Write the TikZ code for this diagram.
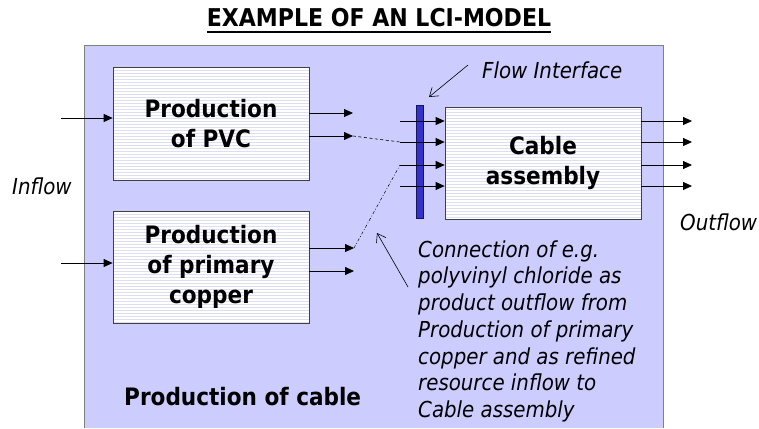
\documentclass[tikz,border=0pt]{standalone}
\usepackage{fontspec}
\setmainfont{DejaVu Sans Condensed}
\usetikzlibrary{arrows.meta,patterns,calc}
\definecolor{bgpanel}{RGB}{204,204,255}
\definecolor{paneledge}{RGB}{128,128,128}
\definecolor{boxline}{RGB}{222,222,242}
\definecolor{barfill}{RGB}{51,51,204}
\definecolor{baredge}{RGB}{20,20,90}
\tikzset{
  procbox/.style={draw=black!75, line width=0.7pt, preaction={fill=white},
    pattern=horizontal lines, pattern color=boxline,
    minimum width=196pt, align=center, inner sep=0pt,
    font=\bfseries\fontsize{24}{30}\selectfont},
  flowbar/.style={draw=baredge, line width=0.6pt, fill=barfill,
    minimum width=7pt, minimum height=113pt, inner sep=0pt},
  flowarr/.style={line width=0.8pt, -{Triangle[length=9pt,width=8pt]}},
  notearr/.style={line width=0.6pt, -{Straight Barb[length=8pt,width=11pt]}},
  bigtxt/.style={font=\bfseries\fontsize{24}{30}\selectfont, inner sep=0pt},
  ittxt/.style={font=\itshape\fontsize{22}{26.7}\selectfont, inner sep=0pt},
}
\begin{document}
\begin{tikzpicture}[x=1pt,y=-1pt]
\useasboundingbox (0,0) rectangle (759,428);
% panel
\fill[bgpanel] (84,45) rectangle (663,428);
\draw[paneledge, line width=0.8pt] (84,428) -- (84,45) -- (663,45) -- (663,428);
% title
\node[bigtxt, anchor=base, font=\bfseries\fontsize{24.5}{30}\selectfont] (title) at (379,27) {EXAMPLE OF AN LCI-MODEL};
\draw[line width=2.4pt] ([yshift=-5pt]title.base west) -- ([yshift=-5pt]title.base east);
% boxes
\node[procbox, minimum height=113pt] (pvc) at (211,123.5) {Production\\of PVC};
\node[procbox, minimum height=112pt] (cu) at (211,267) {Production\\of primary\\copper};
\node[procbox, minimum height=112pt] (cable) at (543,163) {Cable\\assembly};
\node[flowbar] (fi) at (419.5,161.5) {};
% inflows
\coordinate (in1) at (61,118);
\coordinate (in2) at (61,263);
\draw[flowarr] (in1) -- (in1 -| pvc.west);
\draw[flowarr] (in2) -- (in2 -| cu.west);
% PVC outputs
\coordinate (po1) at (353,113);
\coordinate (po2) at (353,136);
\draw[flowarr] (po1 -| pvc.east) -- (po1);
\draw[flowarr] (po2 -| pvc.east) -- (po2);
% copper outputs
\coordinate (co1) at (354,248);
\coordinate (co2) at (354,271);
\draw[flowarr] (co1 -| cu.east) -- (co1);
\draw[flowarr] (co2 -| cu.east) -- (co2);
% cable inputs
\foreach \y/\n in {121/1,142/2,165/3,186/4}{
  \coordinate (ci\n) at (400,\y);
  \coordinate (cq\n) at (692,\y);
}
\foreach \n in {1,2,3,4}{
  \draw[flowarr] (ci\n) -- (ci\n -| cable.west);
  \draw[flowarr] (ci\n -| cable.east) -- (cq\n);
}
% connections
\draw[line width=0.6pt, dash pattern=on 3pt off 2.5pt] (po2) -- (ci2);
\draw[line width=0.5pt, dash pattern=on 3pt off 2pt on 0.8pt off 2pt] (co1) -- (ci3);
% labels
\node[ittxt, anchor=base west] (inflow) at (12,194) {Inflow};
\node[ittxt, anchor=base west] (outflow) at (680,230) {Outflow};
\node[ittxt, anchor=base west] (fitxt) at (482,78) {Flow Interface};
\coordinate (fitail) at (468,65);
\coordinate (fitip) at (429,97);
\draw[notearr] (fitail) -- (fitip);
\node[ittxt, anchor=north west, align=left] (note) at (418,240.3)
 {Connection of e.g.\\polyvinyl chloride as\\product outflow from\\Production of primary\\copper and as refined\\resource inflow to\\Cable assembly};
\coordinate (ntail) at (408,287);
\coordinate (ntip) at (377,233);
\draw[notearr] (ntail) -- (ntip);
\node[bigtxt, anchor=base west] (pcable) at (124,405) {Production of cable};
\end{tikzpicture}
\end{document}
